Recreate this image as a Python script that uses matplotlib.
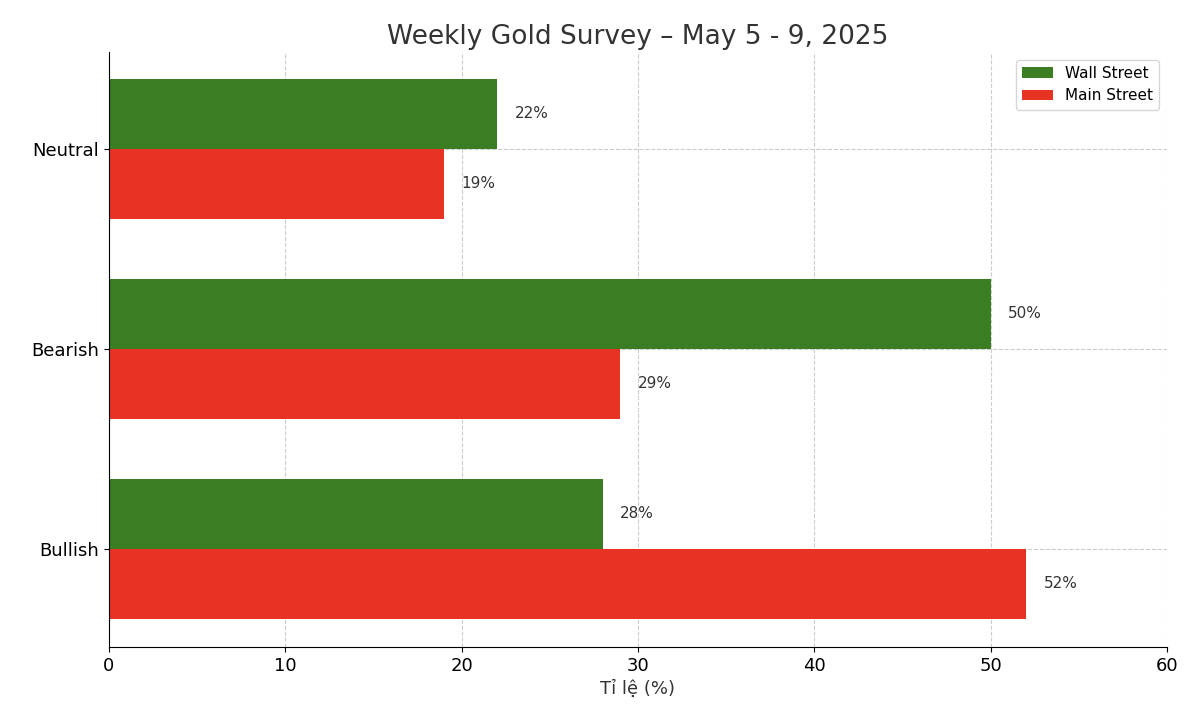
import matplotlib
matplotlib.use("Agg")
import matplotlib.pyplot as plt
import numpy as np

categories = ["Bullish", "Bearish", "Neutral"]
wall_street = [28, 50, 22]
main_street = [52, 29, 19]

fig = plt.figure(figsize=(11.94, 7.12), dpi=100)
ax = fig.add_axes([109/1194, 1-647/712, (1167-109)/1194, (647-52)/712])
y = np.arange(len(categories))
h = 0.35
b1 = ax.barh(y + h/2, wall_street, h, color="#3a7d22", label="Wall Street", zorder=2)
b2 = ax.barh(y - h/2, main_street, h, color="#e83324", label="Main Street", zorder=2)
for bars in (b1, b2):
    for r in bars:
        ax.text(r.get_width() + 1, r.get_y() + r.get_height()/2, f"{int(r.get_width())}%",
                va="center", ha="left", fontsize=11, color="#333333")
ax.set_yticks(y)
ax.set_yticklabels(categories, fontsize=13)
ax.set_xlim(0, 60)
ax.set_ylim(-0.49, 2.485)
ax.tick_params(axis="x", labelsize=13)
ax.set_xlabel("Tỉ lệ (%)", fontsize=13, color="#333333")
ax.set_title("Weekly Gold Survey – May 5 - 9, 2025", fontsize=19, color="#333333", pad=6)
ax.grid(True, linestyle="--", color="#cccccc", linewidth=0.8, zorder=0)
ax.set_axisbelow(True)
for s in ("top", "right"):
    ax.spines[s].set_visible(False)
ax.legend(loc="upper right", fontsize=11)
fig.savefig("out.png", dpi=100)
